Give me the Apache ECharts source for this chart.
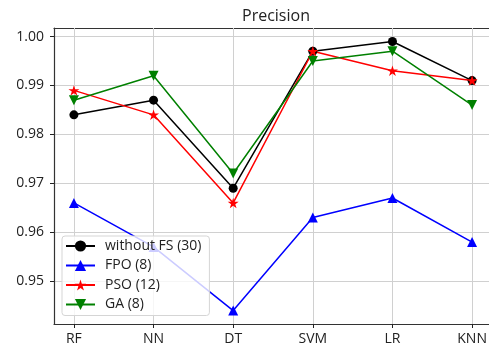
<!DOCTYPE html>
<html>
<head>
<meta charset="utf-8">
<script src="https://cdn.jsdelivr.net/npm/echarts@6/dist/echarts.min.js"></script>
<style>
html,body{margin:0;padding:0;background:#fff;}
#chart{width:489px;height:349px;}
</style>
</head>
<body>
<div id="chart"></div>
<script>
const categories = ['RF', 'NN', 'DT', 'SVM', 'LR', 'KNN'];
const withoutFS = [0.984, 0.987, 0.969, 0.997, 0.999, 0.991];
const fpo = [0.966, 0.957, 0.944, 0.963, 0.967, 0.958];
const pso = [0.989, 0.984, 0.966, 0.997, 0.993, 0.991];
const ga = [0.987, 0.992, 0.972, 0.995, 0.997, 0.986];
const yTicks = [0.95, 0.96, 0.97, 0.98, 0.99, 1.00];
const seriesNames = ['without FS (30)', 'FPO (8)', 'PSO (12)', 'GA (8)'];

const FONT = 'Open Sans';
const star = 'path://M0,-1 L0.2245,-0.309 L0.951,-0.309 L0.363,0.118 L0.588,0.809 L0,0.382 L-0.588,0.809 L-0.363,0.118 L-0.951,-0.309 L-0.2245,-0.309 Z';
const xIdx = categories.map((c, i) => i);
function pts(arr) { return arr.map((v, i) => [i, v]); }

function mk(name, data, color, symbol, size, rotate) {
  return {
    name: name, type: 'line', data: pts(data),
    symbol: symbol, symbolSize: size, symbolRotate: rotate || 0, symbolKeepAspect: true,
    lineStyle: { color: color, width: 1.5 },
    itemStyle: { color: color, borderWidth: 0 },
    emphasis: { disabled: true },
    animation: false
  };
}

const series = [
  mk(seriesNames[0], withoutFS, '#000000', 'circle', 9),
  mk(seriesNames[1], fpo, '#0000ff', 'triangle', 10),
  mk(seriesNames[2], pso, '#ff0000', star, 11),
  mk(seriesNames[3], ga, '#008000', 'triangle', 10, 180)
];
series[0].markLine = {
  silent: true, symbol: 'none', label: { show: false }, animation: false, z: 1,
  lineStyle: { color: '#d0d0d0', width: 1, type: 'solid' },
  emphasis: { disabled: true },
  data: xIdx.map(i => ({ xAxis: i }))
};

const chart = echarts.init(document.getElementById('chart'), null, { renderer: 'canvas' });
chart.setOption({
  animation: false,
  backgroundColor: '#fff',
  title: {
    text: 'Precision', left: 237, top: 3,
    textStyle: { fontFamily: FONT, fontSize: 16, fontWeight: 'normal', color: '#222' }
  },
  grid: { left: 54, top: 28, bottom: 25, right: -3, outerBoundsMode: 'none', containLabel: false, show: false },
  xAxis: [{
    type: 'value', min: -0.25, max: 5.25,
    axisLine: { show: true, onZero: false, lineStyle: { color: '#333', width: 1.2 } },
    axisTick: { show: true, length: 4, lineStyle: { color: '#222' }, customValues: xIdx },
    axisLabel: { customValues: xIdx, formatter: v => categories[Math.round(v)] || '', fontFamily: FONT, fontSize: 14, color: '#222', margin: 8 },
    splitLine: { show: false }
  }, {
    type: 'value', position: 'top', min: -0.25, max: 5.25,
    axisLine: { show: true, onZero: false, lineStyle: { color: '#333', width: 1.2 } },
    axisTick: { show: false }, axisLabel: { show: false }, splitLine: { show: false }
  }],
  yAxis: {
    type: 'value', min: 0.94125, max: 1.00175,
    axisLine: { show: true, onZero: false, lineStyle: { color: '#333', width: 1.2 } },
    axisTick: { show: true, length: 4, lineStyle: { color: '#222' }, customValues: yTicks },
    axisLabel: { customValues: yTicks, formatter: v => v.toFixed(2), fontFamily: FONT, fontSize: 14, color: '#222', margin: 10 },
    splitLine: { show: true, lineStyle: { color: '#d0d0d0', width: 1 } }
  },
  legend: {
    orient: 'vertical', left: 62, top: 236,
    data: seriesNames,
    itemWidth: 29, itemHeight: 14, itemGap: 5.5,
    padding: [3, 8, 4, 3],
    backgroundColor: 'rgba(255,255,255,0.8)',
    borderColor: '#d5d5d5', borderWidth: 1, borderRadius: 3,
    textStyle: { fontFamily: FONT, fontSize: 14, color: '#222', padding: [0, 0, 0, 5] },
    selectedMode: false
  },
  series: series
});
</script>
</body>
</html>
